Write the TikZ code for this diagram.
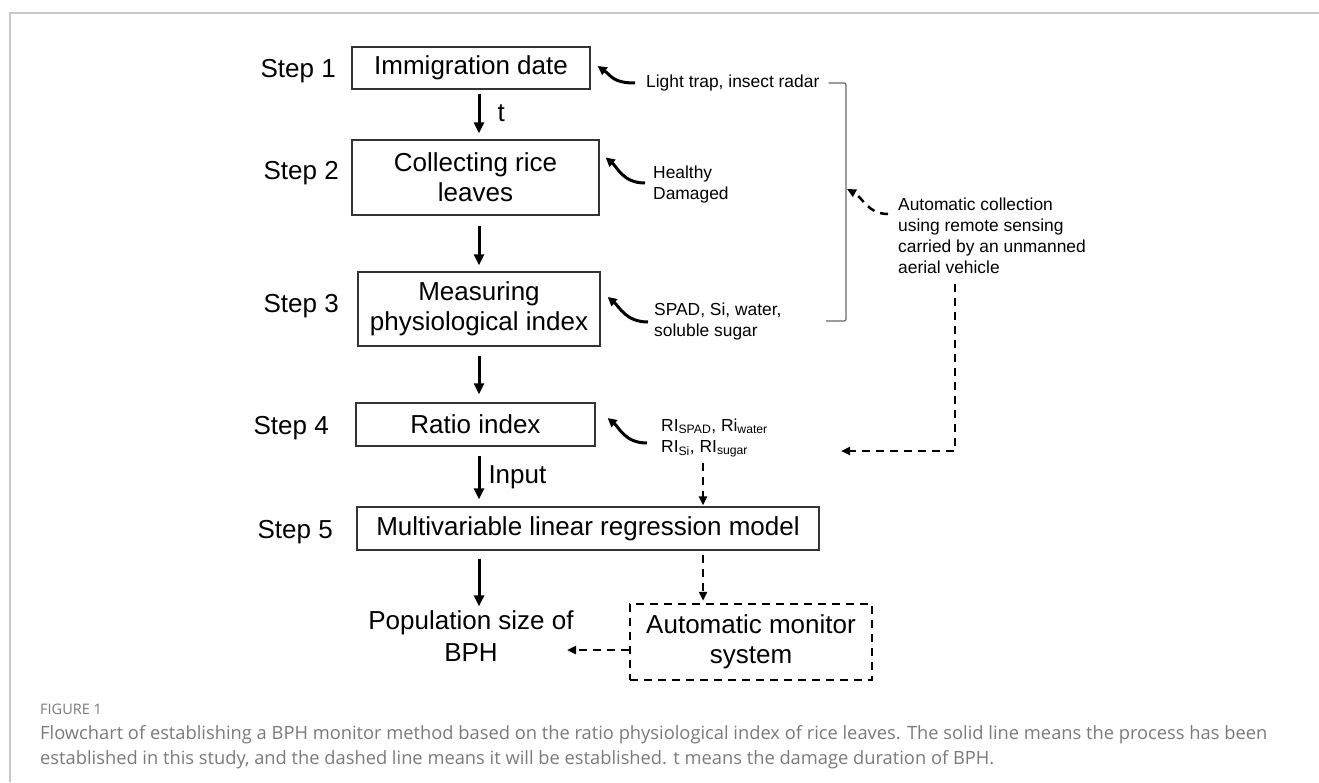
\documentclass[tikz,border=0pt]{standalone}
\usepackage{fontspec}
\setmainfont{Liberation Sans}
\newfontfamily\capfont{Open Sans}
\usepackage{tikz}
\usetikzlibrary{arrows.meta}
\definecolor{framegray}{HTML}{C8C8C8}
\definecolor{capgray}{HTML}{7A7A7A}

\begin{document}
\begin{tikzpicture}[x=1pt,y=-1pt,
  stepbox/.style={draw=black!80,line width=1.3pt,align=center,inner sep=0pt,font=\fontsize{26}{30}\selectfont},
  steplabel/.style={anchor=base east,inner sep=0pt,font=\fontsize{26}{30}\selectfont},
  note/.style={anchor=west,align=left,inner sep=0pt,font=\fontsize{17.4}{21}\selectfont},
  flow/.style={line width=3pt,-{Triangle[length=11pt,width=10pt]}},
  plan/.style={line width=2.5pt,dash pattern=on 8pt off 6pt,-{Triangle[length=9pt,width=8pt]}},
  curvy/.style={line width=3pt,-{Triangle[length=9pt,width=9pt]}},
  bracket/.style={draw=black!60,line width=1.2pt,rounded corners=2pt}]
  \useasboundingbox (0,0) rectangle (1319,782);

  \draw[framegray,line width=1.5pt] (10,782) -- (10,13) -- (1319,13);

  \node[stepbox,minimum width=238pt,minimum height=42pt] (imm) at (471,68) {Immigration date};
  \node[stepbox,minimum width=247pt,minimum height=75pt] (col) at (475.5,177.5) {Collecting rice\\leaves};
  \node[stepbox,minimum width=242pt,minimum height=74pt] (meas) at (479,309) {Measuring\\physiological index};
  \node[stepbox,minimum width=239pt,minimum height=43pt] (ratio) at (475.5,424.5) {Ratio index};
  \node[stepbox,minimum width=462pt,minimum height=43pt] (mlr) at (588,528.5) {Multivariable linear regression model};
  \node[stepbox,draw=black,line width=2.5pt,dash pattern=on 8pt off 6pt,minimum width=242pt,minimum height=76pt] (ams) at (751,642) {Automatic monitor\\system};
  \node[align=center,inner sep=0pt,font=\fontsize{26}{32}\selectfont] (pop) at (471,636) {Population size of\\BPH};

  \foreach \n/\x/\y in {1/336/77,2/339/179,3/339/312,4/329/434,5/333/538}
    \node[steplabel] (s\n) at (\x,\y) {Step \n};

  \coordinate (axis) at (479,0);
  \draw[flow] ([yshift=-4pt]imm.south -| axis) -- node[right=17pt,inner sep=0pt,font=\fontsize{26}{30}\selectfont] {t} ([yshift=6pt]col.north -| axis);
  \draw[flow] ([yshift=-10pt]col.south -| axis) -- ([yshift=6pt]meas.north -| axis);
  \draw[flow] ([yshift=-9pt]meas.south -| axis) -- ([yshift=8pt]ratio.north -| axis);
  \draw[flow] ([yshift=-9pt]ratio.south -| axis) -- node[right=8pt,inner sep=0pt,font=\fontsize{26}{30}\selectfont] {Input} ([yshift=7pt]mlr.north -| axis);
  \draw[flow] ([yshift=-8pt]mlr.south -| axis) -- ([yshift=4pt]pop.north -| axis);

  \node[note] (light) at (646,83) {Light trap, insect radar};
  \node[note] (hd) at (653,184) {Healthy\\Damaged};
  \node[note] (spad) at (654,321) {SPAD, Si, water,\\soluble sugar};
  \node[note] (ri) at (661,438) {RI\textsubscript{SPAD}, Ri\textsubscript{water}\\RI\textsubscript{Si}, RI\textsubscript{sugar}};
  \node[note] (uav) at (898,236) {Automatic collection\\using remote sensing\\carried by an unmanned\\aerial vehicle};

  \draw[curvy] ([xshift=-11pt]light.west) .. controls +(-22,0) and +(14,10) .. ([xshift=7pt,yshift=2pt]imm.east);
  \draw[curvy] ([xshift=-8pt,yshift=1pt]hd.west) .. controls +(-22,0) and +(12,10) .. ([xshift=6pt,yshift=20pt]col.east);
  \draw[curvy] ([xshift=-6pt,yshift=-1pt]spad.west) .. controls +(-22,0) and +(12,10) .. ([xshift=7pt,yshift=12pt]meas.east);
  \draw[curvy] ([xshift=-14pt,yshift=-5pt]ri.west) .. controls +(-22,0) and +(12,10) .. ([xshift=12pt,yshift=6.5pt]ratio.east);

  \coordinate (brk) at (846,0);
  \coordinate (hit) at (847,189);
  \draw[bracket] ([xshift=9pt]light.east) -| (brk |- spad.east) -- ++(-20,0);
  \draw[plan] ([xshift=-10pt,yshift=22pt]uav.west) .. controls +(-20,0) and +(15,8) .. (hit);

  \coordinate (turn) at (955,451);
  \coordinate (merge) at (841,451);
  \draw[plan,shorten <=10pt] (uav.south -| turn) |- (merge);

  \coordinate (dx) at (703,0);
  \coordinate (bphend) at (567,650);
  \draw[plan,shorten <=5pt,shorten >=1pt] (ri.south -| dx) -- (mlr.north -| dx);
  \draw[plan,shorten <=4pt,shorten >=2pt] (mlr.south -| dx) -- (ams.north -| dx);
  \draw[plan] (ams.west |- bphend) -- (bphend);

  \node[anchor=base west,inner sep=0pt,text=capgray,font=\capfont\fontsize{14.5}{16}\selectfont] (fig) at (40,714) {FIGURE 1};
  \node[anchor=base west,inner sep=0pt,text=capgray,font=\capfont\fontsize{18.3}{25}\selectfont] (cap1) at (40,739) {Flowchart of establishing a BPH monitor method based on the ratio physiological index of rice leaves. The solid line means the process has been};
  \node[anchor=base west,inner sep=0pt,text=capgray,font=\capfont\fontsize{18.3}{25}\selectfont] (cap2) at (40,764) {established in this study, and the dashed line means it will be established. t means the damage duration of BPH.};
\end{tikzpicture}
\end{document}
